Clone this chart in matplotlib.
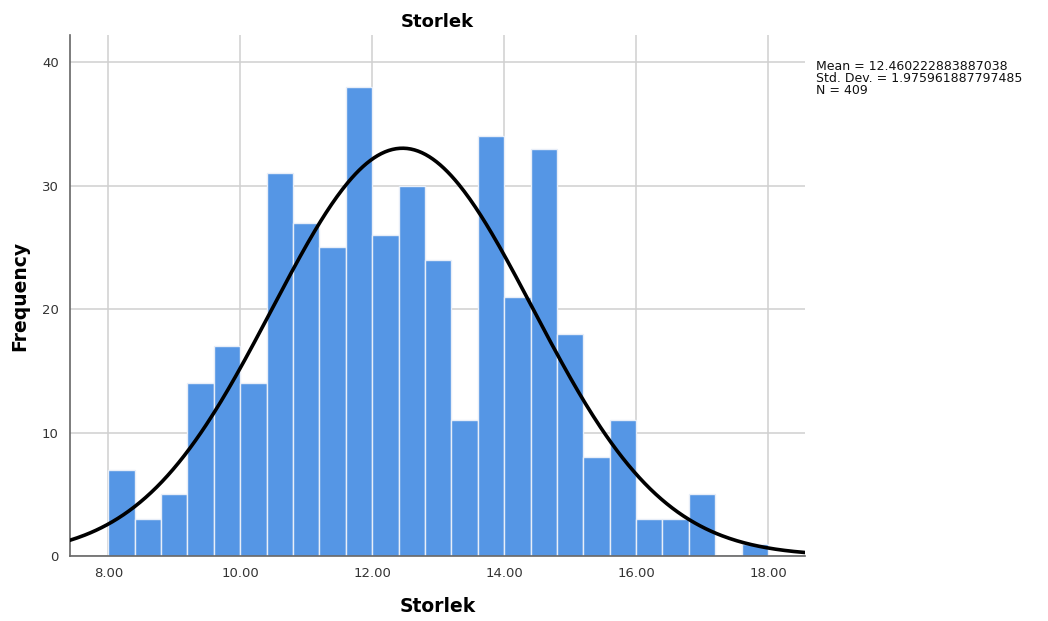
import numpy as np
import matplotlib
matplotlib.use("Agg")
import matplotlib.pyplot as plt

# Histogram of Storlek: bin edges start at 8.0, width 0.4
bin_start = 8.0
bin_width = 0.4
counts = [7, 3, 5, 14, 17, 14, 31, 27, 25, 38, 26, 30, 24,
          11, 34, 21, 33, 18, 8, 11, 3, 3, 5, 0, 1]
mean = 12.460222883887038
std_dev = 1.975961887797485
n_total = 409

x_ticks = [8.0, 10.0, 12.0, 14.0, 16.0, 18.0]
y_ticks = [0, 10, 20, 30, 40]

fig = plt.figure(figsize=(10.48, 6.21), dpi=100)
ax = fig.add_axes([0.0668, 0.1047, 0.7013, 0.8389])

lefts = bin_start + bin_width * np.arange(len(counts))
ax.bar(lefts, counts, width=bin_width, align="edge", color="#5596e5",
       edgecolor="#e8eef8", linewidth=1.0, zorder=2)

# Normal curve scaled to the histogram
xs = np.linspace(7.42, 18.56, 400)
pdf = np.exp(-0.5 * ((xs - mean) / std_dev) ** 2) / (std_dev * np.sqrt(2 * np.pi))
ax.plot(xs, n_total * bin_width * pdf, color="black", linewidth=2.6, zorder=3)

ax.set_xlim(7.42, 18.56)
ax.set_ylim(0, 42.2)
ax.set_xticks(x_ticks)
ax.set_xticklabels([f"{v:.2f}" for v in x_ticks])
ax.set_yticks(y_ticks)
ax.tick_params(length=0, labelsize=9.5, colors="#333333", pad=8)
ax.grid(True, color="#d0d0d0", linewidth=1.1, zorder=0)
ax.set_axisbelow(True)
for s in ("top", "right"):
    ax.spines[s].set_visible(False)
for s in ("left", "bottom"):
    ax.spines[s].set_color("#666666")
    ax.spines[s].set_linewidth(1.2)

ax.set_title("Storlek", fontsize=13, fontweight="bold", pad=6)
ax.set_xlabel("Storlek", fontsize=13.5, fontweight="bold", labelpad=12)
ax.set_ylabel("Frequency", fontsize=13.5, fontweight="bold", labelpad=9)

fig.text(816 / 1048, 1 - 60 / 621,
         f"Mean = {mean!r}\nStd. Dev. = {std_dev!r}\nN = {n_total}",
         fontsize=9, va="top", ha="left", linespacing=0.92, color="#111111")

fig.savefig("out.png", dpi=100)
